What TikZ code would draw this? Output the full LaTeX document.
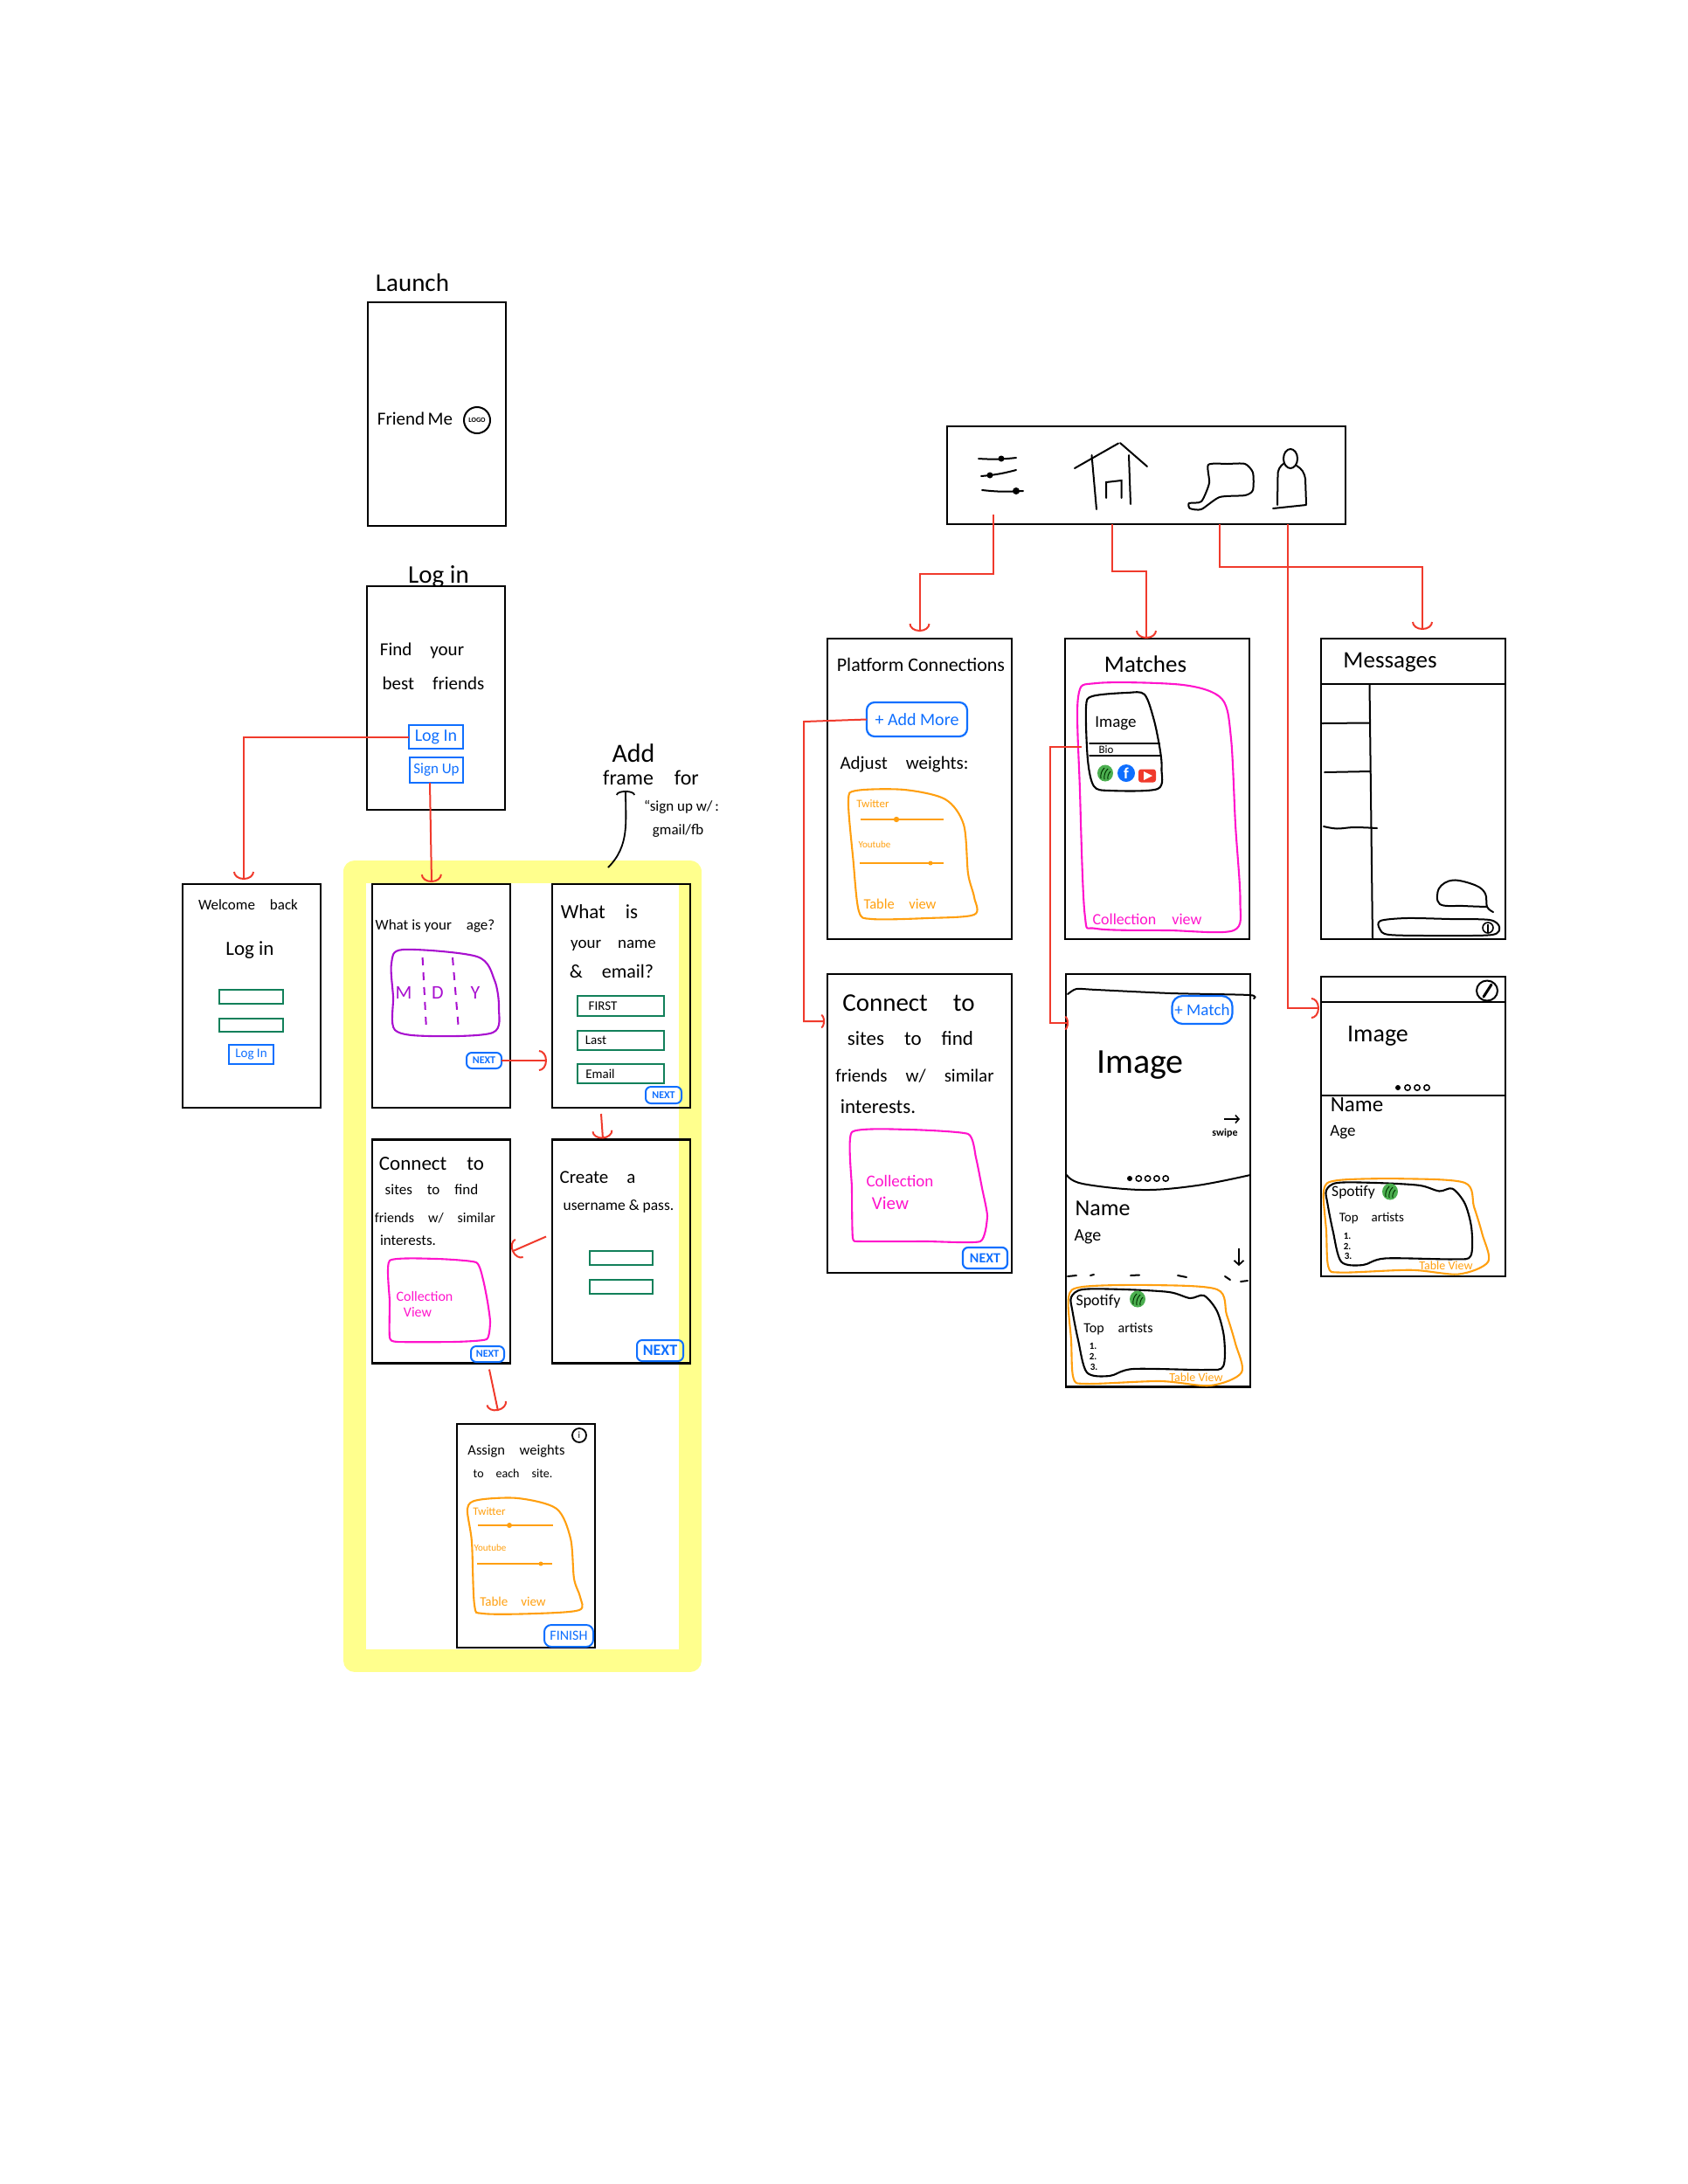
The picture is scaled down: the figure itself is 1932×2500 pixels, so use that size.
\documentclass[tikz,border=0pt]{standalone}
\usepackage{fontspec}
\setmainfont{Carlito}
\usetikzlibrary{arrows.meta, calc}
\definecolor{flowred}{HTML}{F03A2C}
\definecolor{btnblue}{HTML}{0F6FFF}
\definecolor{fieldgreen}{HTML}{12805A}
\definecolor{blobmagenta}{HTML}{FF14CC}
\definecolor{blobpurple}{HTML}{A80FCF}
\definecolor{bloborange}{HTML}{FF9F0F}
\definecolor{bandyellow}{HTML}{FFFF8D}
\definecolor{spotgreen}{HTML}{4CAF50}
\tikzset{
  hand/.style={font=\fontsize{#1}{#1}\selectfont, inner sep=0pt},
  screen/.style={draw, line width=2.6pt, inner sep=0pt, outer sep=0pt, minimum width=158pt, minimum height=256pt},
  bigscreen/.style={draw, line width=2.6pt, inner sep=0pt, outer sep=0pt, minimum width=211pt},
  btn/.style={draw=btnblue, text=btnblue, line width=2pt, inner sep=0pt, outer sep=0pt},
  pill/.style={btn, rounded corners=6pt},
  field/.style={draw=fieldgreen, line width=2.2pt, inner sep=0pt, outer sep=0pt},
  flow/.style={draw=flowred, line width=2pt, -{Arc Barb[length=9pt, width=24pt]}},
  flowsmall/.style={draw=flowred, line width=2pt, -{Arc Barb[length=4pt, width=16pt]}},
  ink/.style={line width=2pt, line cap=round},
  slide/.style={draw=bloborange, line width=1.6pt},
  blob/.style={line width=2.1pt, line cap=round},
}
\newcommand{\spotmark}[1]{%
  \begin{scope}[shift={(#1)}]
    \fill[spotgreen] (0,0) ellipse (9 and 9.5);
    \draw[black!80!green, line width=1pt] (-5,6) to[bend left=25] (-1,-6);
    \draw[black!80!green, line width=1pt] (-1,7) to[bend left=25] (3,-5);
    \draw[black!80!green, line width=1pt] (3,7) to[bend left=25] (6,-2);
  \end{scope}}
\newcommand{\cardoutline}{%
  \draw[blob, black] plot[smooth cycle, tension=0.5] coordinates {(0,9) (13,0) (60,0) (112,3) (136,10) (152,7) (167,25) (175,55) (174,88) (154,92) (71,91) (44,99) (18,95) (8,58) (1.5,25)};
  \draw[blob, bloborange] plot[smooth cycle, tension=0.5] coordinates {(-3,9) (13,-3) (91.5,-5) (167,0) (178,29) (188,62) (195,95) (159.5,110) (102,105) (18,108) (2.6,101.5) (0,58)};}
\begin{document}
\begin{tikzpicture}[x=1pt, y=-1pt]
    \useasboundingbox (0,0) rectangle (1932,2500);

    \node[draw=bandyellow, line width=26pt, line join=round, inner sep=0pt, outer sep=0pt, minimum width=383.5pt, minimum height=903.5pt] (signupband) at (597.75,1449.25) {};

    \node[screen] (launch) at (500,474) {};
    \node[screen] (login) at (499,799) {};
    \node[screen] (welcome) at (288,1140) {};
    \node[screen] (age) at (505,1140) {};
    \node[screen] (nameform) at (711,1140) {};
    \node[screen] (connect) at (505,1432.5) {};
    \node[screen] (create) at (711,1432.5) {};
    \node[screen] (assign) at (602,1758) {};

    \node[draw, line width=2.6pt, inner sep=0pt, outer sep=0pt, minimum width=456pt, minimum height=112pt] (tabbar) at (1312,544) {};
    \node[bigscreen, minimum height=344pt] (platforms) at (1052.5,903) {};
    \node[bigscreen, minimum height=344pt] (matches) at (1324.5,903) {};
    \node[bigscreen, minimum height=344pt] (messages) at (1617.5,903) {};
    \node[bigscreen, minimum height=342pt] (connecttwo) at (1052.5,1286) {};
    \node[bigscreen, minimum height=472.5pt] (matchdetail) at (1325.5,1351.25) {};
    \node[bigscreen, minimum height=343pt] (profile) at (1617.5,1289.5) {};

    % launch and log in
    \node[hand=29] (launchtitle) at (472,324) {Launch};
    \node[hand=21] (appname) at (475,479) {Friend\,Me};
    \node[draw, circle, line width=2pt, minimum size=30pt, inner sep=0pt, hand=8] (logomark) at (546,481) {\textbf{LOGO}};
    \node[hand=29] (logintitle) at (502,660) {Log in};
    \node[hand=21] (findline) at (483,745) {Find\quad your};
    \node[hand=21] (bestline) at (496,782) {best\quad friends};
    \node[btn, hand=20, minimum width=62pt, minimum height=27pt] (loginbtn) at (499,843.5) {Log In};
    \node[btn, hand=17, minimum width=61pt, minimum height=29pt] (signupbtn) at (499.5,881.5) {Sign Up};

    \node[hand=17] (welcometitle) at (284,1036) {Welcome\quad back};
    \node[hand=23] (welcomelog) at (286,1088) {Log in};
    \node[field, minimum width=73pt, minimum height=16pt] (welcomeuser) at (287.5,1141) {};
    \node[field, minimum width=73pt, minimum height=15pt] (welcomepass) at (287.5,1173.5) {};
    \node[btn, hand=15, minimum width=51pt, minimum height=22pt] (welcomebtn) at (287.5,1207) {Log In};

    % age
    \node[hand=17] (agetitle) at (498,1060) {What is your\quad age?};
    \draw[blob, blobpurple] plot[smooth cycle, tension=0.5] coordinates {(448,1103) (461,1087) (546,1095) (566,1122) (571,1154) (564,1182) (492.5,1186) (452,1179) (450,1141)};
    \draw[blobpurple, line width=2pt, dash pattern=on 9pt off 8pt] (483.6,1096) -- (488,1179);
    \draw[blobpurple, line width=2pt, dash pattern=on 9pt off 8pt] (518,1096) -- (525,1179);
    \node[hand=22, text=blobpurple] (agemonth) at (462,1136) {M};
    \node[hand=22, text=blobpurple] (ageday) at (501,1136) {D};
    \node[hand=22, text=blobpurple] (ageyear) at (544,1136) {Y};
    \node[pill, hand=12, minimum width=40pt, minimum height=18pt] (agenext) at (554,1214) {\textbf{NEXT}};

    % name and email
    \node[hand=23] (nameone) at (686,1044) {What\quad is};
    \node[hand=19] (nametwo) at (702,1082) {your\quad name};
    \node[hand=22] (namethree) at (700,1112) {\&\quad email?};
    \node[field, minimum width=99pt, minimum height=23pt] (firstbox) at (710.5,1151.5) {};
    \node[field, minimum width=99pt, minimum height=22pt] (lastbox) at (710.5,1191) {};
    \node[field, minimum width=99pt, minimum height=22pt] (emailbox) at (710.5,1229) {};
    \node[hand=15] (firstlabel) at (690,1151.5) {FIRST};
    \node[hand=15] (lastlabel) at (682,1191) {Last};
    \node[hand=15] (emaillabel) at (687,1229) {Email};
    \node[pill, hand=12, minimum width=41pt, minimum height=19pt] (namenext) at (759.5,1253.5) {\textbf{NEXT}};

    % note
    \node[hand=30] (noteadd) at (725,862) {Add};
    \node[hand=24] (noteframe) at (745,890) {frame\quad for};
    \node[hand=17] (notesign) at (780,924) {``sign up w/\,:};
    \node[hand=17] (notemail) at (776,951) {gmail/fb};

    % connect
    \node[hand=23] (connectone) at (494,1332) {Connect\quad to};
    \node[hand=17] (connecttwoline) at (494,1362) {sites\quad to\quad find};
    \node[hand=16] (connectthree) at (498,1394) {friends\quad w/\quad similar};
    \node[hand=17] (connectfour) at (467,1420) {interests.};
    \draw[blob, blobmagenta] plot[smooth cycle, tension=0.3] coordinates {(446,1443) (500,1441) (545,1445) (553,1465) (558,1490) (561,1513) (557,1533) (520,1536) (455,1536) (446,1531) (446,1490)};
    \node[hand=16, text=blobmagenta] (connectcoll) at (486,1484) {Collection};
    \node[hand=16, text=blobmagenta] (connectview) at (478,1502) {View};
    \node[pill, hand=12, minimum width=38pt, minimum height=18pt] (connectnext) at (558,1550) {\textbf{NEXT}};

    % create
    \node[hand=21] (createone) at (684,1348) {Create\quad a};
    \node[hand=17.5] (createtwo) at (708,1381) {username \& pass.};
    \node[field, minimum width=72pt, minimum height=16pt] (createuser) at (711,1440) {};
    \node[field, minimum width=72pt, minimum height=16pt] (createpass) at (711,1473) {};
    \node[pill, hand=18, minimum width=53pt, minimum height=24pt] (createnext) at (755.5,1546) {\textbf{NEXT}};

    % assign
    \node[hand=16.5] (assignone) at (591,1661) {Assign\quad weights};
    \node[hand=14] (assigntwo) at (587,1687) {to\quad each\quad site.};
    \node[draw, circle, line width=1.8pt, minimum size=16pt, inner sep=0pt, hand=11] (assigninfo) at (663,1643) {i};
    \draw[blob, bloborange] plot[smooth cycle, tension=0.5] coordinates {(535,1727) (547,1717) (593,1715) (637,1727) (653,1761) (657,1807) (664,1828) (663,1843) (613,1847) (553,1847) (543,1837) (540,1765)};
    \node[hand=13, text=bloborange] (assigntw) at (560,1730) {Twitter};
    \draw[slide] (547,1746) -- (633,1746);
    \fill[bloborange] (583,1746) circle (3);
    \node[hand=11, text=bloborange] (assignyt) at (561,1772) {Youtube};
    \draw[slide] (546,1790) -- (632,1790);
    \fill[bloborange] (619,1790) circle (2.5);
    \node[hand=15, text=bloborange] (assigntable) at (587,1833) {Table\quad view};
    \node[pill, rounded corners=8pt, hand=16, minimum width=56pt, minimum height=25pt] (assignfinish) at (651,1872.5) {FINISH};

    % tab bar
    \draw[ink] (1120,525) to[bend right=5] (1163,524);
    \fill (1146,525) circle (3.5);
    \draw[ink] (1123,545) to[bend right=5] (1163,538);
    \fill (1133,544) circle (3.5);
    \draw[ink] (1124,561) to[bend right=5] (1171,562);
    \fill (1163,562) circle (4);
    \draw[ink] (1230,536) -- (1280,507.5);
    \draw[ink] (1282,507) -- (1313,534);
    \draw[ink] (1249.5,521) -- (1255,583);
    \draw[ink] (1292,521) -- (1294,577);
    \draw[ink] (1266,570) -- (1266,552) -- (1283.5,550) -- (1283.5,570);
    \draw[ink] plot[smooth cycle, tension=0.4] coordinates {(1383,532) (1405,531) (1425,531) (1434,541) (1434,561) (1425,567) (1396,569) (1375,583) (1362,582) (1361,576) (1375,574) (1384,553)};
    \draw[ink] (1477,525) ellipse (8 and 11);
    \draw[ink] (1462,578) -- (1462.5,545) to[bend left=30] (1470,530);
    \draw[ink] (1484,533) to[bend left=25] (1494,548) -- (1495,577);
    \draw[ink] (1457,582) -- (1495,578);

    % platforms
    \node[hand=22] (platformtitle) at (1054,761) {Platform Connections};
    \node[pill, rounded corners=9pt, hand=20, line width=2.2pt, minimum width=115pt, minimum height=39pt] (addmore) at (1049.5,823.5) {+ Add More};
    \node[hand=21] (adjustline) at (1035,875) {Adjust\quad weights:};
    \draw[blob, bloborange] plot[smooth cycle, tension=0.5] coordinates {(971,917) (980,905) (1035,904) (1082,915) (1103,944) (1108,1000) (1115,1027) (1115,1047) (1061,1051) (998,1052) (983,1043) (976.5,984)};
    \node[hand=13, text=bloborange] (platformtw) at (999,920) {Twitter};
    \draw[slide] (985,938) -- (1080,938);
    \fill[bloborange] (1026,938) circle (3.2);
    \node[hand=11, text=bloborange] (platformyt) at (1001,967) {Youtube};
    \draw[slide] (984,988) -- (1079.5,988);
    \fill[bloborange] (1065,988) circle (2.5);
    \node[hand=16.5, text=bloborange] (platformtable) at (1030,1035) {Table\quad view};

    % matches
    \node[hand=27] (matchestitle) at (1311,760) {Matches};
    \draw[blob, blobmagenta] plot[smooth cycle, tension=0.5] coordinates {(1234,798) (1255,782) (1354,784) (1398.5,800) (1409,845.5) (1414,944) (1419.5,1031) (1412,1065) (1338,1065) (1255,1063) (1241.6,1047) (1236,905)};
    \draw[blob, black] plot[smooth cycle, tension=0.5] coordinates {(1243,810) (1250,797) (1290,793) (1310,795) (1321,825) (1328,860) (1329.5,880) (1325,903) (1270,905) (1252,900) (1245,870)};
    \node[hand=19] (cardimage) at (1277,828) {Image};
    \draw[ink] (1247,851) -- (1327,851);
    \draw[ink] (1247,865) -- (1328,865);
    \node[hand=13] (cardbio) at (1266,858.5) {Bio};
    \spotmark{1265,885}
    \node[circle, fill=btnblue, text=white, minimum size=20pt, inner sep=0pt, hand=18] (cardfb) at (1289,885) {\textbf{f}};
    \node[fill=flowred, rounded corners=3pt, minimum width=20pt, minimum height=15pt, inner sep=0pt] (cardyt) at (1313,888) {};
    \fill[white] (1309,883) -- (1319,888) -- (1309,893) -- cycle;
    \node[hand=18, text=blobmagenta] (matchcoll) at (1313,1052) {Collection\quad view};

    % messages
    \node[hand=27] (messagestitle) at (1591,758) {Messages};
    \draw[ink] (messages.west |- 0,783.4) -- (messages.east |- 0,783.4);
    \draw[ink] (1567.5,783) -- (1571,1075);
    \draw[ink] (1513.6,828) -- (1567.5,827.5);
    \draw[ink] (1516,884) -- (1568.5,883);
    \draw[ink] plot[smooth, tension=0.6] coordinates {(1515,946) (1530,948.5) (1550,947) (1576,948)};
    \draw[ink] plot[smooth, tension=0.6] coordinates {(1709,1044) (1702,1038) (1700,1023) (1689,1013.5) (1663,1007.5) (1647,1017) (1648,1035) (1675,1037) (1702,1038)};
    \draw[ink] plot[smooth cycle, tension=0.5] coordinates {(1580,1054) (1610,1051) (1660,1052) (1705,1053) (1716,1061) (1708,1070) (1650,1071) (1590,1070) (1579,1063)};
    \draw[line width=1.6pt] (1703,1062) circle (6);
    \draw[line width=1.6pt] (1703,1067) -- (1703,1058);

    % second connect
    \node[hand=29] (connectbig) at (1040,1148) {Connect\quad to};
    \node[hand=23] (connectbigtwo) at (1042,1189) {sites\quad to\quad find};
    \node[hand=21] (connectbigthree) at (1047,1232) {friends\quad w/\quad similar};
    \node[hand=23] (connectbigfour) at (1005,1267) {interests.};
    \draw[blob, blobmagenta] plot[smooth cycle, tension=0.3] coordinates {(975,1296) (1040,1293) (1108,1298) (1117,1325) (1124,1360) (1130,1392) (1122,1421) (1060,1421) (985,1421) (976,1417) (975,1360)};
    \node[hand=19, text=blobmagenta] (bigcoll) at (1030,1352) {Collection};
    \node[hand=21, text=blobmagenta] (bigview) at (1019,1377) {View};
    \node[pill, hand=16, line width=2.2pt, minimum width=51pt, minimum height=24pt] (bignext) at (1127.5,1440) {\textbf{NEXT}};

    % match detail
    \draw[ink] plot[smooth, tension=0.4] coordinates {(1222,1138) (1232,1132) (1255,1133) (1340,1137) (1430,1139) (1435,1143)};
    \node[pill, rounded corners=12pt, line width=2.2pt, hand=19, minimum width=69pt, minimum height=32pt] (matchbtn) at (1376,1156) {+ Match};
    \node[hand=40] (detailimage) at (1305,1219) {Image};
    \coordinate (swipefrom) at (1401,1281);
    \coordinate (swipeto) at (1419,1281);
    \draw[line width=1.6pt, -{Straight Barb[length=4pt, width=9pt]}] (swipefrom) -- (swipeto);
    \node[hand=12] (swipelabel) at (1402,1297) {\textbf{swipe}};
    \fill (1293,1349) circle (3);
    \foreach \i in {1,...,4} \draw[line width=1.5pt] ({1293+\i*10.3},1349) circle (3.2);
    \draw[ink] plot[smooth, tension=0.6] coordinates {(1221,1345) (1239,1355) (1307,1362) (1370,1357) (1431,1345)};
    \node[hand=26] (detailname) at (1262,1383) {Name};
    \node[hand=20] (detailage) at (1245,1416) {Age};
    \coordinate (scrollfrom) at (1418,1429);
    \coordinate (scrollto) at (1418,1449);
    \draw[line width=1.8pt, -{Straight Barb[length=5pt, width=11pt]}] (scrollfrom) -- (scrollto);
    \draw[ink] (1222,1461) -- (1232,1460);
    \draw[ink] (1248,1460) -- (1252,1459);
    \draw[ink] (1294,1460) -- (1304,1459.5);
    \draw[ink] (1348,1460) -- (1358,1462);
    \draw[ink] (1402,1461) -- (1408,1465);
    \draw[ink] (1420,1467) -- (1428,1466);
    \begin{scope}[shift={(1226,1476)}]
      \cardoutline
    \end{scope}
    \node[hand=18] (spotifyone) at (1257,1490) {Spotify};
    \spotmark{1302,1487}
    \node[hand=16] (artistsone) at (1280,1521) {Top\quad artists};
    \node[hand=11] (rankoneA) at (1251,1541) {\textbf{1.}};
    \node[hand=11] (ranktwoA) at (1251,1553) {\textbf{2.}};
    \node[hand=11] (rankthreeA) at (1252,1565) {\textbf{3.}};
    \node[hand=14, text=bloborange] (tableone) at (1369,1577) {Table View};

    % profile
    \draw[ink] (profile.west |- 0,1147) -- (profile.east |- 0,1147);
    \draw[ink] (1702,1134) ellipse (12 and 11.5);
    \draw[line width=3pt, line cap=round] (1698,1141) -- (1707,1127);
    \node[hand=28] (profileimage) at (1577,1186) {Image};
    \fill (1600,1245) circle (3);
    \foreach \i in {1,...,3} \draw[line width=1.5pt] ({1600+\i*11},1245) circle (3.2);
    \draw[ink] (profile.west |- 0,1254) -- (profile.east |- 0,1254);
    \node[hand=25] (profilename) at (1553,1265) {Name};
    \node[hand=19] (profileage) at (1537,1296) {Age};
    \begin{scope}[shift={(1518,1354)}, scale=.95]
      \cardoutline
    \end{scope}
    \node[hand=17.5] (spotifytwo) at (1549,1365) {Spotify};
    \spotmark{1591,1364}
    \node[hand=15] (artiststwo) at (1570,1395) {Top\quad artists};
    \node[hand=11] (rankoneB) at (1542,1415) {\textbf{1.}};
    \node[hand=11] (ranktwoB) at (1542,1427) {\textbf{2.}};
    \node[hand=11] (rankthreeB) at (1543,1438) {\textbf{3.}};
    \node[hand=14, text=bloborange] (tabletwo) at (1655,1449) {Table View};

    % flows
    \draw[flow] (loginbtn.west) -| ([xshift=-9pt, yshift=5pt]welcome.north);
    \draw[flow] (signupbtn.south west) ++(23pt,0pt) -- ([xshift=-11pt, yshift=2pt]age.north);
    \draw[flow] (agenext.east) -- ([xshift=-6pt]nameform.west |- agenext.east);
    \draw[flow] ([xshift=-23pt, yshift=-7pt]nameform.south) -- ([xshift=-21pt, yshift=1pt]create.north);
    \draw[flow] ([yshift=17pt, xshift=-7pt]create.west) -- ([yshift=0pt, xshift=2pt]connect.east);
    \draw[flow] ([xshift=55pt, yshift=-7pt]connect.south) -- ([xshift=-32pt, yshift=15pt]assign.north);

    \coordinate (barplatform) at (1136.5,656.6);
    \draw[flow] ([yshift=11.4pt]tabbar.south -| barplatform) -- (barplatform) -| ([yshift=8pt]platforms.north);
    \coordinate (barmatch) at (1273,654);
    \draw[flow] (tabbar.south -| barmatch) -- (barmatch) -| (matches.north -| 1312,0);
    \coordinate (barmessage) at (1396,649);
    \draw[flow] (tabbar.south -| barmessage) -- (barmessage) -| ([xshift=10.5pt, yshift=10pt]messages.north);
    \coordinate (barprofile) at (1474,1154);
    \draw[flow] (tabbar.south -| barprofile) -- (barprofile) -- ([xshift=-2pt]profile.west |- barprofile);
    \coordinate (morebend) at (920,826);
    \coordinate (moredrop) at (920,1169);
    \draw[flowsmall] (addmore.west) -- (morebend) -- (moredrop) -- ([xshift=-3pt]connecttwo.west |- moredrop);
    \coordinate (biobend) at (1202,855);
    \coordinate (biodrop) at (1202,1171);
    \draw[flowsmall] (cardimage.south west |- biobend) ++(-15pt,0pt) -- (biobend) -- (biodrop) -- ([xshift=3pt]matchdetail.west |- biodrop);

    \coordinate (noteroot) at (696,993);
    \coordinate (notehook) at (716,905);
    \draw[line width=1.8pt, -{Arc Barb[length=5pt, width=22pt]}] (noteroot) to[out=45, in=270] (notehook);
\end{tikzpicture}
\end{document}
